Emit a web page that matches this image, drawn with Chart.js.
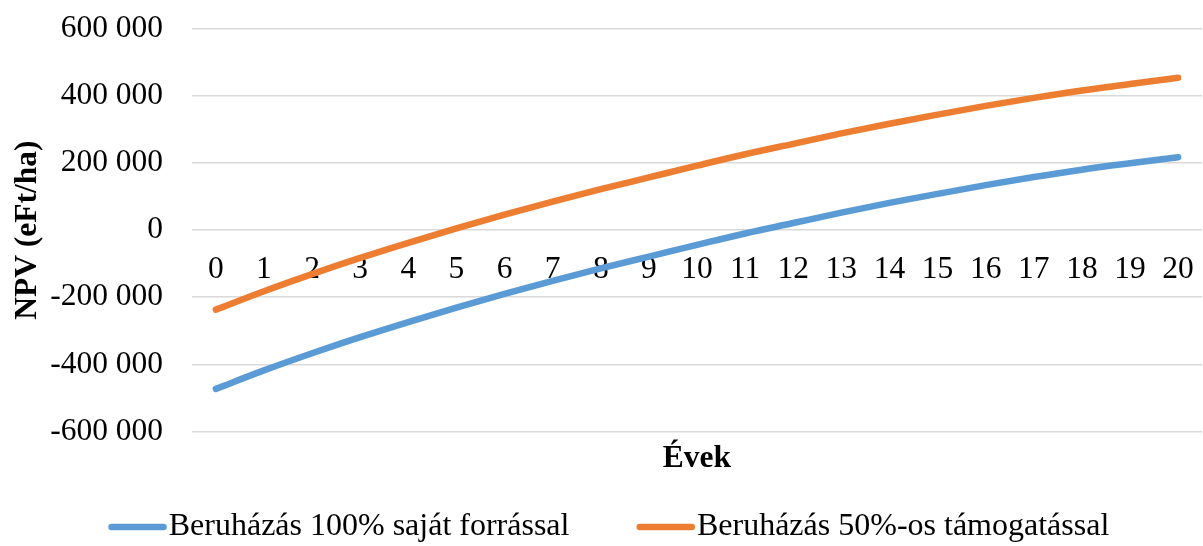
<!DOCTYPE html>
<html lang="hu">
<head>
<meta charset="utf-8">
<title>NPV (eFt/ha)</title>
<script src="https://cdn.jsdelivr.net/npm/chart.js@4.4.1/dist/chart.umd.min.js"></script>
<style>
  html, body { margin: 0; padding: 0; background: #ffffff; overflow: hidden; }
  #wrap { width: 1203px; height: 546px; overflow: hidden; }
  canvas { display: block; margin-top: -19px; }
</style>
</head>
<body>
<div id="wrap"><canvas id="npv" width="1215" height="572"></canvas></div>
<script>
// Years of the investment horizon
const years = ['0','1','2','3','4','5','6','7','8','9','10','11','12','13','14','15','16','17','18','19','20'];

// Cumulative NPV, thousand HUF per hectare
const npvOwnFunds = [-473000, -418000, -367000, -319000, -274000, -231000, -190000, -151000, -114000, -79000, -44000, -10000, 21000, 52000, 81000, 108000, 134000, 158000, 180000, 199000, 217000];
const npvSubsidised = [-237000, -182000, -131000, -83000, -38000, 5000, 46000, 85000, 122000, 157000, 192000, 226000, 257000, 288000, 317000, 344000, 370000, 394000, 416000, 435000, 454000];

const seriesNames = ['Beruházás 100% saját forrással', 'Beruházás 50%-os támogatással'];
const seriesColors = ['#5b9bd5', '#ed7d31'];

const yTicks = { min: -600000, max: 600000, step: 200000 };

const serif = '"Liberation Serif", "Times New Roman", serif';
const fontSize = 31.5;
const legendFontSize = 32;

function fmtThousands(v) {
  const s = Math.abs(v).toString().replace(/\B(?=(\d{3})+(?!\d))/g, ' ');
  return (v < 0 ? '-' : '') + s;
}

// Short rounded line used as the legend marker
function legendMark(color) {
  const c = document.createElement('canvas');
  c.width = 64; c.height = 10;
  const g = c.getContext('2d');
  g.strokeStyle = color;
  g.lineWidth = 6.5;
  g.lineCap = 'round';
  g.beginPath();
  g.moveTo(6.75, 5);
  g.lineTo(58.75, 5);
  g.stroke();
  return c;
}
const legendMarks = seriesColors.map(legendMark);

const ctx = document.getElementById('npv').getContext('2d');
new Chart(ctx, {
  type: 'line',
  data: {
    labels: years,
    datasets: [
      {
        label: seriesNames[0],
        data: npvOwnFunds,
        borderColor: seriesColors[0],
        backgroundColor: seriesColors[0],
        borderWidth: 6.5,
        borderCapStyle: 'round',
        borderJoinStyle: 'round',
        pointRadius: 0,
        cubicInterpolationMode: 'monotone',
        fill: false
      },
      {
        label: seriesNames[1],
        data: npvSubsidised,
        borderColor: seriesColors[1],
        backgroundColor: seriesColors[1],
        borderWidth: 6.5,
        borderCapStyle: 'round',
        borderJoinStyle: 'round',
        pointRadius: 0,
        cubicInterpolationMode: 'monotone',
        fill: false
      }
    ]
  },
  options: {
    responsive: false,
    animation: false,
    events: [],
    layout: { padding: { left: 21, right: 6, top: 9, bottom: 0 } },
    scales: {
      x: {
        type: 'category',
        offset: true,
        position: { y: 0 },
        grid: { display: false, drawTicks: false },
        border: { display: false },
        ticks: {
          color: '#000',
          padding: 21,
          autoSkip: false,
          maxRotation: 0,
          font: { family: serif, size: fontSize }
        },
        title: {
          display: true,
          text: 'Évek',
          color: '#000',
          font: { family: serif, size: fontSize, weight: 'bold' },
          padding: { top: 130, bottom: -120 }
        }
      },
      y: {
        min: yTicks.min,
        max: yTicks.max,
        grid: { color: '#d9d9d9', lineWidth: 1.5, drawTicks: false },
        border: { display: false },
        ticks: {
          stepSize: yTicks.step,
          color: '#000',
          padding: 28.8,
          font: { family: serif, size: fontSize },
          callback: (v) => fmtThousands(v)
        },
        title: {
          display: true,
          text: 'NPV (eFt/ha)',
          color: '#000',
          font: { family: serif, size: fontSize, weight: 'bold' },
          padding: { top: -12, bottom: 0 }
        },
        afterFit: (scale) => { scale.width = 170.8; }
      }
    },
    plugins: {
      tooltip: { enabled: false },
      legend: {
        position: 'bottom',
        labels: {
          color: '#000',
          font: { family: serif, size: legendFontSize },
          usePointStyle: true,
          pointStyleWidth: 32,
          padding: 79.5,
          generateLabels: (chart) => {
            const items = Chart.defaults.plugins.legend.labels.generateLabels(chart);
            items.forEach((it, i) => { it.pointStyle = legendMarks[i]; });
            return items;
          }
        }
      }
    }
  }
});
</script>
</body>
</html>
